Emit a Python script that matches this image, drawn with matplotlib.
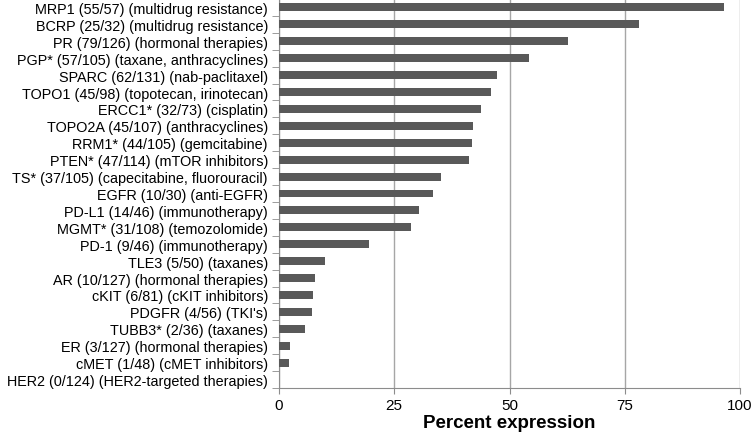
import numpy as np
import matplotlib.pyplot as plt

labels = [
    "MRP1 (55/57) (multidrug resistance)",
    "BCRP (25/32) (multidrug resistance)",
    "PR (79/126) (hormonal therapies)",
    "PGP* (57/105) (taxane, anthracyclines)",
    "SPARC (62/131) (nab-paclitaxel)",
    "TOPO1 (45/98) (topotecan, irinotecan)",
    "ERCC1* (32/73) (cisplatin)",
    "TOPO2A (45/107) (anthracyclines)",
    "RRM1* (44/105) (gemcitabine)",
    "PTEN* (47/114) (mTOR inhibitors)",
    "TS* (37/105) (capecitabine, fluorouracil)",
    "EGFR (10/30) (anti-EGFR)",
    "PD-L1 (14/46) (immunotherapy)",
    "MGMT* (31/108) (temozolomide)",
    "PD-1 (9/46) (immunotherapy)",
    "TLE3 (5/50) (taxanes)",
    "AR (10/127) (hormonal therapies)",
    "cKIT (6/81) (cKIT inhibitors)",
    "PDGFR (4/56) (TKI's)",
    "TUBB3* (2/36) (taxanes)",
    "ER (3/127) (hormonal therapies)",
    "cMET (1/48) (cMET inhibitors)",
    "HER2 (0/124) (HER2-targeted therapies)",
]
values = [96.5, 78.1, 62.7, 54.3, 47.3, 45.9, 43.8, 42.1, 41.9, 41.2,
          35.2, 33.3, 30.4, 28.7, 19.6, 10.0, 7.9, 7.4, 7.1, 5.6,
          2.4, 2.1, 0.0]
xticks = [0, 25, 50, 75, 100]

plt.rcParams['font.family'] = ['Liberation Sans', 'DejaVu Sans']

fig = plt.figure(figsize=(7.52, 4.35), dpi=100)
ax = fig.add_axes([279 / 752, 1 - 389 / 435, 461 / 752, 389 / 435])

y = np.arange(len(labels))
ax.barh(y, values, height=0.47, color="#595959", zorder=3)
ax.set_ylim(len(labels) - 0.5, -0.5)
ax.set_xlim(0, 100)

ax.set_yticks(y)
ax.set_yticklabels(labels, fontsize=10.4)
ax.tick_params(axis="y", length=0, pad=8)
ax.set_yticks(np.arange(len(labels)) + 0.5, minor=True)
ax.tick_params(axis="y", which="minor", length=5, color="#8c8c8c")

ax.set_xticks(xticks)
ax.set_xticklabels([str(t) for t in xticks], fontsize=11)
ax.tick_params(axis="x", length=4, color="#8c8c8c", pad=3)
ax.grid(axis="x", color="#a6a6a6", linewidth=1, zorder=0)

for s in ["top", "right"]:
    ax.spines[s].set_visible(False)
for s in ["left", "bottom"]:
    ax.spines[s].set_color("#8c8c8c")

ax.set_xlabel("Percent expression", fontsize=13.5, fontweight="bold", labelpad=2)

fig.savefig("out.png", dpi=100)
